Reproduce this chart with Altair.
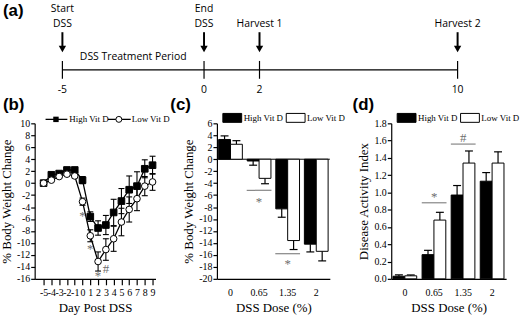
import altair as alt
import pandas as pd

# ---------------- data ----------------
# (a) timeline
event_days = [-5, 0, 2, 10]
event_top = ["Start", "End", "", ""]
event_bottom = ["DSS", "DSS", "Harvest 1", "Harvest 2"]
period_text = "DSS Treatment Period"

series = ["High Vit D", "Low Vit D"]

# (b) body weight change over time
days = list(range(-5, 10))
high_b = [0.0, 1.4, 1.6, 2.2, 2.2, 0.5, -5.6, -7.5, -7.0, -4.9, -3.0, -1.1, -0.5, 2.4, 3.0]
high_b_err = [0.0, 0.3, 0.3, 0.3, 0.3, 0.6, 0.8, 1.2, 1.6, 2.2, 2.1, 2.3, 2.4, 1.5, 1.5]
low_b = [0.0, 0.5, 1.1, 1.5, 1.2, -3.1, -8.8, -13.1, -11.1, -9.3, -6.5, -4.4, -2.6, -0.5, 0.2]
low_b_err = [0.0, 0.2, 0.2, 0.3, 0.3, 0.6, 1.0, 1.6, 1.8, 2.1, 2.3, 2.1, 2.0, 1.6, 1.4]
sig_b_days = [0, 1, 2, 3]
sig_b_y = [-5.0, -10.6, -15.0, -13.9]
sig_b_sym = ["*", "*", "*", "#"]

# (c) body weight change by dose
doses = ["0", "0.65", "1.35", "2"]
high_c = [3.3, -0.3, -8.3, -14.2]
high_c_err = [0.6, 0.7, 1.4, 1.3]
low_c = [2.5, -3.2, -13.6, -15.4]
low_c_err = [0.6, 0.9, 1.5, 1.6]
sig_c_doses = ["0.65", "1.35"]
sig_c_line = [-5.2, -15.8]
sig_c_sym_y = [-6.7, -17.0]
sig_c_sym = ["*", "*"]

# (d) disease activity index
high_d = [0.03, 0.28, 0.97, 1.13]
high_d_err = [0.015, 0.05, 0.11, 0.10]
low_d = [0.035, 0.68, 1.34, 1.34]
low_d_err = [0.01, 0.09, 0.14, 0.13]
sig_d_doses = ["0.65", "1.35"]
sig_d_line = [0.88, 1.56]
sig_d_sym_y = [0.98, 1.66]
sig_d_sym = ["*", "#"]

# ---------------- styles ----------------
SERIF = "Liberation Serif"
SANS = "Open Sans"
BOLD = "Liberation Sans"
GRAY = "#6e6e6e"
HYPHEN = "replace(datum.label, '\u2212', '-')"


def panel_label(text, dx):
    return alt.Chart(pd.DataFrame({"t": [text]})).mark_text(
        font=BOLD, fontWeight="bold", fontSize=17, align="left", baseline="middle", color="black"
    ).encode(x=alt.value(dx), y=alt.value(-18), text="t:N")


# ---------------- (a) timeline ----------------
tl_x = alt.Scale(domain=event_days, range=[28, 171, 227, 427])
ev = pd.DataFrame({"day": event_days, "top": event_top, "bottom": event_bottom,
                   "lab": [str(d) for d in event_days]})
span = pd.DataFrame({"start": [min(event_days)], "end": [max(event_days)]})
period = pd.DataFrame({"mid": [(event_days[0] + event_days[1]) / 2], "text": [period_text]})
TX = alt.X("day:Q", scale=tl_x, axis=None)

tl_layers = [
    alt.Chart(span).mark_rule(color="black", strokeWidth=1.2).encode(
        x=alt.X("start:Q", scale=tl_x, axis=None), x2="end:Q", y=alt.value(69)),
    alt.Chart(ev).mark_rule(color="black", strokeWidth=1.2).encode(
        x=TX, y=alt.value(60), y2=alt.value(78)),
    alt.Chart(ev).mark_text(font=SANS, fontSize=10.5, color="black").encode(
        x=TX, y=alt.value(89), text="lab:N"),
    alt.Chart(ev).mark_rule(color="black", strokeWidth=2).encode(
        x=TX, y=alt.value(31), y2=alt.value(45)),
    alt.Chart(ev).mark_point(shape="triangle-down", filled=True, color="black", size=55, opacity=1).encode(
        x=TX, y=alt.value(48)),
    alt.Chart(ev).mark_text(font=SANS, fontSize=10.5, color="black").encode(
        x=TX, y=alt.value(8), text="top:N"),
    alt.Chart(ev).mark_text(font=SANS, fontSize=10.5, color="black").encode(
        x=TX, y=alt.value(23), text="bottom:N"),
    alt.Chart(period).mark_text(font=SANS, fontSize=10.5, color="black").encode(
        x=alt.X("mid:Q", scale=tl_x, axis=None), y=alt.value(56), text="text:N"),
    alt.Chart(pd.DataFrame({"t": ["(a)"]})).mark_text(
        font=BOLD, fontWeight="bold", fontSize=17, align="left", baseline="middle", color="black"
    ).encode(x=alt.value(-32), y=alt.value(10), text="t:N"),
]
timeline = alt.layer(*tl_layers).properties(width=488, height=123)

# ---------------- (b) ----------------
rows = []
for s, vals, errs in [(series[0], high_b, high_b_err), (series[1], low_b, low_b_err)]:
    for d, v, e in zip(days, vals, errs):
        rows.append(dict(day=d, series=s, val=v, err=e, lo=v - e, hi=v + e))
bdf = pd.DataFrame(rows)
sigb = pd.DataFrame({"day": sig_b_days, "y": sig_b_y, "sym": sig_b_sym})

bx = alt.Scale(domain=[-6.15, 9.38], nice=False, zero=False)
by = alt.Scale(domain=[-16, 10], nice=False, zero=False)
bx_axis = alt.Axis(values=days, title="Day Post DSS", labelExpr=HYPHEN, tickSize=6,
                   labelOverlap=False, labelFlush=False, labelBound=False, labelPadding=3,
                   titlePadding=4)
by_axis = alt.Axis(values=list(range(-16, 11, 2)), title="% Body Weight Change", labelExpr=HYPHEN,
                   labelOverlap=False, tickSize=4, labelPadding=1, titlePadding=3)
BX = alt.X("day:Q", scale=bx, axis=bx_axis)


def BY(field):
    return alt.Y(field, scale=by, axis=by_axis)


errb = alt.Chart(bdf).transform_filter("datum.err > 0")
b_layers = [
    errb.mark_rule(color="black", strokeWidth=1.1).encode(x=BX, y=BY("lo:Q"), y2="hi:Q"),
    errb.mark_rule(color="black", strokeWidth=1.1, xOffset=-3, x2Offset=3).encode(x=BX, x2="day:Q", y=BY("hi:Q")),
    errb.mark_rule(color="black", strokeWidth=1.1, xOffset=-3, x2Offset=3).encode(x=BX, x2="day:Q", y=BY("lo:Q")),
    alt.Chart(bdf).mark_line(color="black", strokeWidth=1.3).encode(x=BX, y=BY("val:Q"), detail="series:N"),
    alt.Chart(bdf).mark_point(filled=True, stroke="black", strokeWidth=1, size=45, opacity=1).encode(
        x=BX, y=BY("val:Q"),
        shape=alt.Shape("series:N", scale=alt.Scale(domain=series, range=["square", "circle"]), legend=None),
        fill=alt.Fill("series:N", scale=alt.Scale(domain=series, range=["black", "white"]), legend=None)),
    alt.Chart(sigb).mark_text(font=SERIF, fontSize=13, color=GRAY, dy=3).encode(
        x=BX, y=BY("y:Q"), text="sym:N"),
]
# legend (b)
one_hi = alt.Chart(pd.DataFrame({"s": [series[0]]}))
one_lo = alt.Chart(pd.DataFrame({"s": [series[1]]}))
b_layers += [
    one_hi.mark_rule(color="black", strokeWidth=1.3).encode(x=alt.value(11), x2=alt.value(33), y=alt.value(-4)),
    one_hi.mark_point(shape="square", filled=True, color="black", size=30, opacity=1).encode(
        x=alt.value(21.5), y=alt.value(-4)),
    one_hi.mark_text(font=SERIF, fontSize=9, align="left", color="black").encode(
        x=alt.value(35), y=alt.value(-4), text="s:N"),
    one_lo.mark_rule(color="black", strokeWidth=1.3).encode(x=alt.value(74), x2=alt.value(97), y=alt.value(-4)),
    one_lo.mark_point(shape="circle", filled=True, fill="white", stroke="black", strokeWidth=1, size=36,
                      opacity=1).encode(x=alt.value(85), y=alt.value(-4)),
    one_lo.mark_text(font=SERIF, fontSize=9, align="left", color="black").encode(
        x=alt.value(98), y=alt.value(-4), text="s:N"),
    panel_label("(b)", -32),
]
panel_b = alt.layer(*b_layers).properties(width=122, height=157)


# ---------------- bar panels ----------------
def bar_panel(high, high_err, low, low_err, ydomain, yvalues, ytitle, yfmt_expr,
              sig_doses, sig_line, sig_sym_y, sig_sym, width, label, label_dx, zero_line):
    rows = []
    for s, vals, errs in [(series[0], high, high_err), (series[1], low, low_err)]:
        for d, v, e in zip(doses, vals, errs):
            sign = 1 if v >= 0 else -1
            rows.append(dict(dose=d, series=s, val=v, end=v + sign * e))
    df = pd.DataFrame(rows)
    sig = pd.DataFrame({"dose": sig_doses, "line": sig_line, "sy": sig_sym_y, "sym": sig_sym})

    xs = alt.Scale(domain=doses, paddingInner=0.17, paddingOuter=0.06)
    x_axis = alt.Axis(title="DSS Dose (%)", labelAngle=0, ticks=False, labelPadding=9, titlePadding=4)
    X = alt.X("dose:N", scale=xs, axis=x_axis)
    XO = alt.XOffset("series:N", scale=alt.Scale(domain=series, paddingInner=0, paddingOuter=0))
    ys = alt.Scale(domain=ydomain, nice=False, zero=False)
    y_axis = alt.Axis(values=yvalues, title=ytitle, labelExpr=yfmt_expr, labelOverlap=False,
                      tickSize=4, labelPadding=1, titlePadding=3)

    def Y(field):
        return alt.Y(field, scale=ys, axis=y_axis)

    layers = []
    if zero_line:
        layers.append(alt.Chart(pd.DataFrame({"z": [0]})).mark_rule(color="black", strokeWidth=1).encode(
            y=Y("z:Q")))
    layers += [
        alt.Chart(df).mark_rule(color="black", strokeWidth=1.2).encode(x=X, xOffset=XO, y=Y("val:Q"), y2="end:Q"),
        alt.Chart(df).mark_tick(color="black", size=8, thickness=1.2, opacity=1).encode(
            x=X, xOffset=XO, y=Y("end:Q")),
        alt.Chart(df).mark_bar(stroke="black", strokeWidth=1).encode(
            x=X, xOffset=XO, y=Y("val:Q"),
            fill=alt.Fill("series:N", scale=alt.Scale(domain=series, range=["black", "white"]), legend=None)),
        alt.Chart(sig).mark_tick(color=GRAY, size=25, thickness=1, opacity=1).encode(x=X, y=Y("line:Q")),
        alt.Chart(sig).mark_text(font=SERIF, fontSize=13, color=GRAY, dy=3).encode(x=X, y=Y("sy:Q"), text="sym:N"),
    ]
    hi = alt.Chart(pd.DataFrame({"s": [series[0]]}))
    lo = alt.Chart(pd.DataFrame({"s": [series[1]]}))
    layers += [
        hi.mark_rect(fill="black", stroke="black", strokeWidth=1).encode(
            x=alt.value(6), x2=alt.value(25), y=alt.value(-10), y2=alt.value(-1)),
        hi.mark_text(font=SERIF, fontSize=9, align="left", color="black").encode(
            x=alt.value(27), y=alt.value(-5), text="s:N"),
        lo.mark_rect(fill="white", stroke="black", strokeWidth=1).encode(
            x=alt.value(70), x2=alt.value(89), y=alt.value(-10), y2=alt.value(-1)),
        lo.mark_text(font=SERIF, fontSize=9, align="left", color="black").encode(
            x=alt.value(91), y=alt.value(-5), text="s:N"),
        panel_label(label, label_dx),
    ]
    return alt.layer(*layers).properties(width=width, height=157)


panel_c = bar_panel(high_c, high_c_err, low_c, low_c_err, [-20, 6], list(range(-20, 7, 2)),
                    "% Body Weight Change", HYPHEN, sig_c_doses, sig_c_line, sig_c_sym_y, sig_c_sym,
                    114, "(c)", -47, True)
panel_d = bar_panel(high_d, high_d_err, low_d, low_d_err, [0, 1.8], [round(0.2 * i, 1) for i in range(10)],
                    "Disease Activity Index", "format(datum.value, '.1f')", sig_d_doses, sig_d_line,
                    sig_d_sym_y, sig_d_sym, 116, "(d)", -39, False)

bottom = alt.hconcat(panel_b, panel_c, panel_d, spacing=62, bounds="flush")
chart = alt.vconcat(timeline, bottom, spacing=0, bounds="flush").properties(
    padding={"left": 0, "top": 0, "right": 0, "bottom": 0}, background="white"
).configure_view(stroke=None).configure_axis(
    domainColor="black", tickColor="black", labelColor="black", titleColor="black",
    labelFont=SERIF, titleFont=SERIF, labelFontSize=10, titleFontSize=13, titleFontWeight="normal",
    grid=False, domainWidth=1.2, tickWidth=1.2
)

chart.save("out.html", embed_options={"renderer": "svg", "actions": False})
